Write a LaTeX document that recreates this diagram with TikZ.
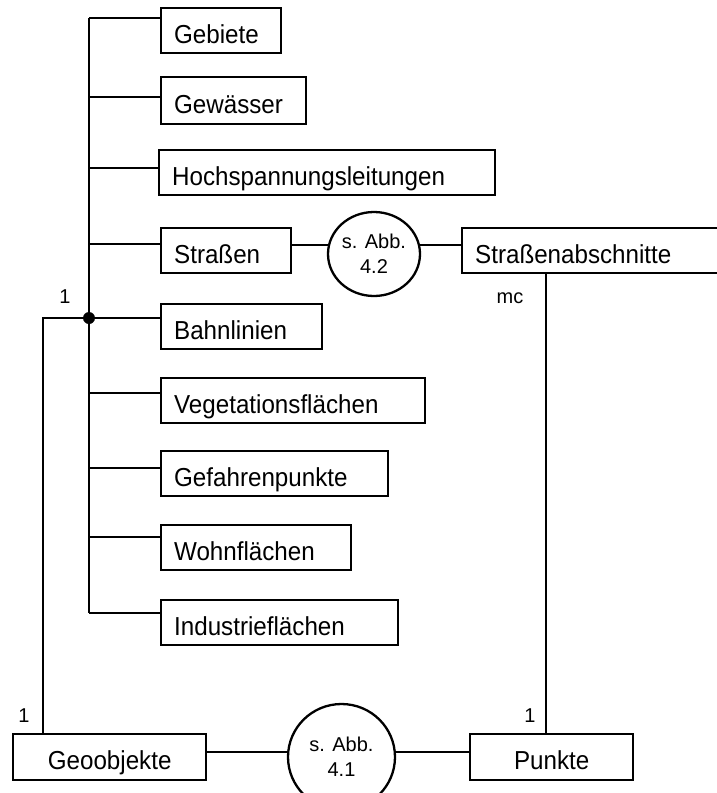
\documentclass[tikz,border=0pt]{standalone}
\usepackage{fontspec}
\setmainfont{Liberation Sans}
\newfontfamily\boxfont[FakeStretch=0.93]{Liberation Sans}
\usetikzlibrary{shapes.geometric}

\tikzset{
  lw/.style={line width=2.3pt},
  box/.style={draw, lw, rectangle, anchor=north west, minimum height=45pt,
    inner xsep=13pt, inner ysep=0pt, text height=25.5pt, text depth=0pt,
    align=left, font=\boxfont\fontsize{26}{30}\selectfont},
  cbox/.style={box, align=center, inner xsep=0pt},
  relation/.style={draw, lw, ellipse, inner sep=0pt, align=center,
    font=\fontsize{20}{25}\selectfont},
  card/.style={anchor=base, inner sep=0pt, font=\fontsize{20}{24}\selectfont},
  link/.style={lw}
}

\begin{document}
\begin{tikzpicture}[x=1pt, y=-1pt]
  \useasboundingbox (0,0) rectangle (717,793);
  \clip (0,0) rectangle (717,793);

  % object classes
  \node[box, text width=94pt]  (gebiete) at (160,7)   {Gebiete};
  \node[box, text width=119pt, minimum height=47pt] (gewaesser) at (160,76) {Gewässer};
  \node[box, text width=310pt] (hochsp)  at (158,149) {Hochspannungsleitungen};
  \node[box, text width=104pt] (strassen) at (160,227) {Straßen};
  \node[box, text width=253pt] (sab)     at (461,227) {Straßenabschnitte};
  \node[box, text width=135pt] (bahn)    at (160,303) {Bahnlinien};
  \node[box, text width=238pt] (veg)     at (160,377) {Vegetationsflächen};
  \node[box, text width=201pt] (gefahr)  at (160,450) {Gefahrenpunkte};
  \node[box, text width=164pt] (wohn)    at (160,524) {Wohnflächen};
  \node[box, text width=211pt] (industrie) at (160,599) {Industrieflächen};
  \node[cbox, text width=193pt, minimum height=46pt] (geo)    at (12,733)  {Geoobjekte};
  \node[cbox, text width=163pt, minimum height=46pt] (punkte) at (469,733) {Punkte};

  % relationships
  \node[relation, minimum width=92pt, minimum height=84pt] (r42) at (374,254) {s. Abb.\\4.2};
  \node[relation, minimum width=107pt, minimum height=106pt] (r41) at (341.5,757) {s. Abb.\\4.1};

  % generalisation trunk
  \coordinate (ttop) at (89,18);
  \coordinate (tbot) at (89,613);
  \coordinate (tj) at (89,318);
  \draw[link] (ttop) -- (tbot);
  \foreach \yy/\target in {18/gebiete, 97/gewaesser, 168/hochsp, 244/strassen,
      318/bahn, 393/veg, 468/gefahr, 537/wohn, 613/industrie}{
    \coordinate (br) at (89,\yy);
    \draw[link] (br) -- (br -| \target.west);
  }
  \fill (tj) circle (6pt);

  % link down to Geoobjekte
  \coordinate (gl) at (43,318);
  \draw[link] (tj) -- (gl) -- (gl |- geo.north);

  % Straßen -- relationship 4.2 -- Straßenabschnitte
  \coordinate (lvl42) at (0,245);
  \draw[link] (strassen.east |- lvl42) -- ([xshift=1.3pt]r42.west |- lvl42);
  \draw[link] ([xshift=-1.3pt]r42.east |- lvl42) -- (sab.west |- lvl42);

  % Straßenabschnitte -- Punkte
  \coordinate (sl) at (546,0);
  \draw[link] (sl |- sab.south) -- (sl |- punkte.north);

  % Geoobjekte -- relationship 4.1 -- Punkte
  \coordinate (lvl41) at (0,752);
  \draw[link] (geo.east |- lvl41) -- (r41.west |- lvl41);
  \draw[link] (r41.east |- lvl41) -- (punkte.west |- lvl41);

  % cardinalities
  \node[card] (c1) at (65,303)  {1};
  \node[card] (c2) at (510,303) {mc};
  \node[card] (c3) at (24,722)  {1};
  \node[card] (c4) at (530,722) {1};
\end{tikzpicture}
\end{document}
